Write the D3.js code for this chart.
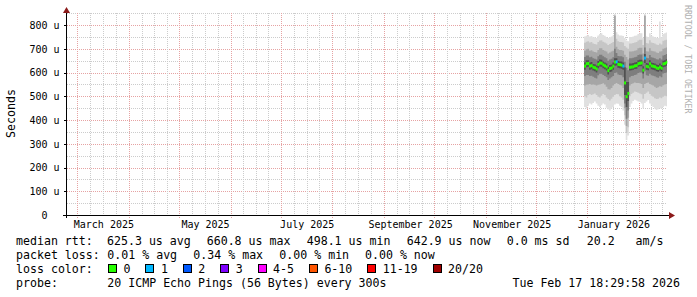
<!DOCTYPE html>
<html><head><meta charset="utf-8">
<script src="https://cdn.jsdelivr.net/npm/d3@7"></script>
<style>
html,body{margin:0;padding:0;background:#fff;}
svg text{font-family:"DejaVu Sans Mono",monospace;white-space:pre;}
</style></head><body>
<svg id="c" width="697" height="297"></svg>
<script>
// ---------- data ----------
const endTime = Date.UTC(2026,1,17,18,29,58);
const spanDays = 360;
const firstDay = Date.UTC(2025,11,30);
const yTicks = [0,100,200,300,400,500,600,700,800];
const monthLabels = [
  {date: Date.UTC(2025,2,1), text: "March 2025"},
  {date: Date.UTC(2025,4,1), text: "May 2025"},
  {date: Date.UTC(2025,6,1), text: "July 2025"},
  {date: Date.UTC(2025,8,1), text: "September 2025"},
  {date: Date.UTC(2025,10,1), text: "November 2025"},
  {date: Date.UTC(2026,0,1), text: "January 2026"}
];
// median rtt per day (microseconds)
const median = [627,637,638,627,629,622,620,615,634,640,
 639,632,628,623,608,617,619,627,644,645,
 634,633,631,627,556,498.1,512,622,623,624,
 628,629,637,639,640,610,660.8,626,624,637,
 628,626,624,619,617,623,618,636,638,642.9];
// average lost pings (of 20) per day
const loss = [0,0,0,0,0,0,0,0,0,0,
 0,0,0,0,0,0,0,0,0,0.1,
 0,0,0,0.1,0,0,0,0,0,0,
 0,0,0,0,0,0,0.2,0,0,0,
 0,0,0,0,0,0,0,0,0,0];
// ping rank values per day (smoke)
const p1 = [455,450,460,470,465,472,478,470,460,455,
 462,470,465,452,445,440,448,455,465,470,
 468,460,455,440,380,316,335,455,470,480,
 485,482,478,476,470,450,472,478,484,470,
 462,455,448,442,445,450,448,455,460,458];
const p3 = [500,495,505,510,505,508,512,505,498,495,
 502,510,505,495,488,482,490,498,505,510,
 508,500,495,485,420,345,370,500,510,515,
 520,518,515,512,508,490,510,515,520,510,
 502,498,492,488,490,495,492,498,502,500];
const p5 = [545,548,550,552,548,550,548,545,548,550,
 552,555,550,540,530,528,535,545,552,556,
 552,548,545,535,450,375,410,545,552,555,
 558,556,556,555,552,535,552,556,558,552,
 548,545,540,535,538,542,540,546,550,552];
const p7 = [585,590,590,585,586,582,578,575,588,595,
 595,590,585,580,568,575,580,585,598,600,
 592,590,588,580,470,405,440,580,585,586,
 590,592,598,600,600,575,605,588,586,595,
 588,586,584,580,578,584,580,596,598,600];
const p9 = [612,622,624,612,614,608,605,600,618,625,
 624,618,614,608,592,602,604,612,628,630,
 620,618,616,612,505,455,480,608,610,612,
 615,616,624,626,626,596,640,612,610,622,
 614,612,610,605,603,608,604,622,624,628];
const p12 = [642,652,652,642,644,636,635,630,648,655,
 654,646,642,638,624,632,634,642,660,660,
 648,646,646,642,622,560,560,638,638,640,
 642,644,652,654,654,626,678,640,638,652,
 642,640,638,634,632,638,632,650,652,656];
const p14 = [665,672,672,664,666,660,658,655,668,675,
 675,668,664,660,650,655,658,664,700,682,
 670,668,668,664,645,620,610,660,660,662,
 664,666,674,676,676,650,705,662,660,674,
 664,662,660,656,655,660,655,672,674,678];
const p16 = [692,698,700,692,694,688,686,684,695,702,
 702,695,692,688,680,684,688,692,838,708,
 698,695,695,692,675,665,655,688,688,690,
 692,694,702,704,704,680,838,690,688,702,
 692,690,688,684,682,688,690,700,702,705];
const p18 = [725,730,732,726,728,722,720,718,728,735,
 736,730,726,722,716,720,724,728,842,742,
 732,728,728,726,712,705,700,722,722,724,
 726,728,735,738,738,716,842,724,722,736,
 726,724,722,718,716,722,718,734,736,738];
const p20 = [752,755,758,752,754,748,748,745,756,762,
 765,758,755,750,745,748,752,756,846,770,
 760,756,756,754,745,735,732,750,750,752,
 755,756,762,765,765,745,846,752,750,765,
 755,752,750,746,745,815,748,762,765,768];
const lossLabels = ["0","1","2","3","4-5","6-10","11-19","20/20"];
const lossColors = ["#26ff00","#00b8ff","#0059ff","#7e00ff","#ff00ff","#ff5500","#ff0000","#a00000"];
const lossLimits = [0,1,2,3,5,10,19,20];
const legendRtt = ["median rtt:","625.3 us avg","660.8 us max","498.1 us min","642.9 us now","0.0 ms sd","20.2   am/s"];
const legendLoss = ["packet loss:","0.01 % avg","0.34 % max","0.00 % min","0.00 % now"];
const legendColorTitle = "loss color:";
const legendProbe = ["probe:","20 ICMP Echo Pings (56 Bytes) every 300s"];
const stamp = "Tue Feb 17 18:29:58 2026";

// ---------- drawing ----------
const DAY = 86400000;
const svg = d3.select("#c");
const x = d3.scaleUtc().domain([endTime - spanDays*DAY, endTime]).range([67, 667]);
const y = d3.scaleLinear().domain([0, 800]).range([215, 25]);
const yTop = 850;

const gridG = svg.append("g").attr("shape-rendering","crispEdges");
const hLines = d3.range(50, yTop + 1, 50);
gridG.selectAll("line.h").data(hLines).join("line")
  .attr("x1", 67).attr("x2", 667)
  .attr("y1", d => Math.round(y(d)) + 0.5).attr("y2", d => Math.round(y(d)) + 0.5)
  .attr("stroke", d => d % 100 === 0 ? "#e6a3a3" : "#cccccc")
  .attr("stroke-dasharray", "1,1");
const months = d3.utcMonth.range(d3.utcMonth.floor(x.domain()[0]), x.domain()[1]);
const minors = [];
months.forEach(m => {
  const next = d3.utcMonth.offset(m, 1);
  for (let k = 1; k < 4; k++) minors.push(new Date(+m + (next - m) * k / 4));
});
const inRange = t => t > x.domain()[0] && t < x.domain()[1];
gridG.selectAll("line.vm").data(minors.filter(inRange)).join("line")
  .attr("x1", d => Math.round(x(d)) + 0.5).attr("x2", d => Math.round(x(d)) + 0.5)
  .attr("y1", y(yTop)).attr("y2", 215)
  .attr("stroke", "#cccccc").attr("stroke-dasharray", "1,1");
gridG.selectAll("line.vM").data(months.filter(inRange)).join("line")
  .attr("x1", d => Math.round(x(d)) + 0.5).attr("x2", d => Math.round(x(d)) + 0.5)
  .attr("y1", y(yTop)).attr("y2", 218)
  .attr("stroke", "#e6a3a3").attr("stroke-dasharray", "1,1");

// smoke
const levels = [
  {lo: p1, hi: p20, c: "#e0e0e0"},
  {lo: p3, hi: p18, c: "#c6c6c6"},
  {lo: p5, hi: p16, c: "#a6a6a6"},
  {lo: p7, hi: p14, c: "#7e7e7e"},
  {lo: p9, hi: p12, c: "#505050"}
];
const dayTimes = median.map((_, i) => firstDay + i * DAY);
const smokeG = svg.append("g");
levels.forEach(L => {
  const pts = dayTimes.map((t, i) => ({t, lo: L.lo[i], hi: L.hi[i]}));
  pts.push({t: endTime, lo: L.lo[L.lo.length-1], hi: L.hi[L.hi.length-1]});
  smokeG.append("path").datum(pts)
    .attr("fill", L.c)
    .attr("d", d3.area().curve(d3.curveStepAfter)
      .x(d => x(d.t)).y0(d => y(d.lo)).y1(d => y(d.hi)));
});
const lossIdx = v => lossLimits.findIndex(l => v <= l);
svg.append("g").selectAll("rect").data(median).join("rect")
  .attr("x", (d, i) => x(dayTimes[i]))
  .attr("width", (d, i) => x(Math.min(dayTimes[i] + DAY, endTime)) - x(dayTimes[i]) + 0.3)
  .attr("y", d => y(d) - 1.5).attr("height", 3)
  .attr("fill", (d, i) => lossColors[lossIdx(loss[i])]);

// axes
const yAxis = d3.axisLeft(y).tickValues(yTicks).tickSize(3).tickPadding(4)
  .tickFormat(d => d === 0 ? "0  " : d + " u");
const yg = svg.append("g").attr("transform", "translate(66.5,0)").call(yAxis);
yg.select(".domain").remove();
yg.selectAll("text").attr("font-size", 10).attr("fill", "#000").attr("dy", "0.34em")
  .style("font-family", "'DejaVu Sans Mono', monospace");
yg.selectAll("line").attr("stroke", "#000").attr("shape-rendering","crispEdges");

const xAxis = d3.axisBottom(x).tickValues(monthLabels.map(m => new Date(m.date + 15.6 * DAY)))
  .tickSize(0).tickPadding(6).tickFormat((d, i) => monthLabels[i].text);
const xg = svg.append("g").attr("transform", "translate(0,215)").call(xAxis);
xg.select(".domain").remove();
xg.selectAll("text").attr("font-size", 10).attr("fill", "#000")
  .style("font-family", "'DejaVu Sans Mono', monospace");

const axG = svg.append("g").attr("shape-rendering","crispEdges");
axG.append("line").attr("x1", 63).attr("x2", 670).attr("y1", 215.5).attr("y2", 215.5).attr("stroke", "#000");
axG.append("line").attr("x1", 66.5).attr("x2", 66.5).attr("y1", 11).attr("y2", 218).attr("stroke", "#000");
svg.append("path").attr("d", "M669,212L675,215.5L669,219Z").attr("fill", "#8b1a1a");
svg.append("path").attr("d", "M63,13L66.5,7L70,13Z").attr("fill", "#8b1a1a");

svg.append("text").attr("transform", "translate(15,113.5) rotate(-90)")
  .attr("text-anchor", "middle").attr("font-size", 11.6).attr("fill", "#000").text("Seconds");
svg.append("text").attr("transform", "translate(684.5,5) rotate(90)")
  .attr("font-size", 8.2).attr("fill", "#b0b0b0").text("RRDTOOL / TOBI OETIKER");

// legend
const LF = 11.6, baseY = [245, 259, 273, 287];
const put = (txt, xx, row, anchor) => svg.append("text").attr("x", xx).attr("y", baseY[row])
  .attr("font-size", LF).attr("fill", "#000").attr("text-anchor", anchor || "start").text(txt);
const rttX = [16, 107, 206.7, 306.7, 406.7, 506.7, 586.7];
legendRtt.forEach((t, i) => put(t, rttX[i], 0));
const lossX = [16, 107.3, 193.3, 279.3, 365];
legendLoss.forEach((t, i) => put(t, lossX[i], 1));
put(legendColorTitle, 16, 2);
let lx = 108.5;
lossLabels.forEach((lab, i) => {
  svg.append("rect").attr("x", lx).attr("y", 264.5).attr("width", 8).attr("height", 8)
    .attr("fill", lossColors[i]).attr("stroke", "#000").attr("shape-rendering","crispEdges");
  const t = put(lab, lx + 15, 2);
  lx = lx + 15 + t.node().getComputedTextLength() + 15.4;
});
put(legendProbe[0], 16, 3);
put(legendProbe[1], 107.3, 3);
put(stamp, 680, 3, "end");
</script>
</body></html>
